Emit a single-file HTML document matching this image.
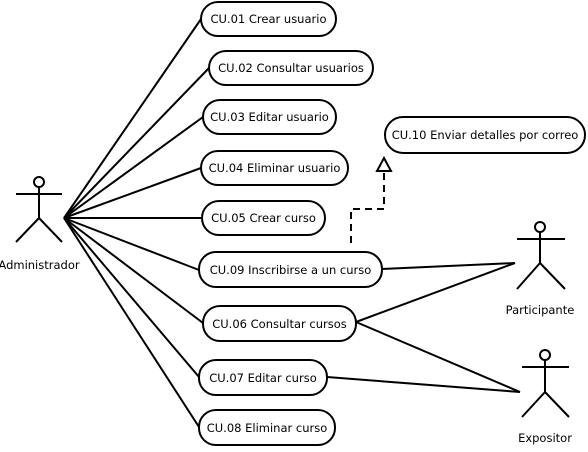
<!DOCTYPE html>
<html><head><meta charset="utf-8"><style>
html,body{margin:0;padding:0;background:#fff;}
</style></head><body>
<svg width="588" height="447" viewBox="0 0 588 447" xmlns="http://www.w3.org/2000/svg">
<g stroke="#000" stroke-width="2" fill="none">
<circle cx="39" cy="182" r="5"/>
<line x1="16" y1="194" x2="62" y2="194"/>
<line x1="39" y1="187" x2="39" y2="218"/>
<line x1="39" y1="218" x2="16" y2="242"/>
<line x1="39" y1="218" x2="62" y2="242"/>
<line x1="64" y1="218" x2="201" y2="19"/>
<line x1="64" y1="218" x2="209" y2="68"/>
<line x1="64" y1="218" x2="203" y2="117"/>
<line x1="64" y1="218" x2="201" y2="168"/>
<line x1="64" y1="218" x2="202" y2="218"/>
<line x1="64" y1="218" x2="199" y2="270"/>
<line x1="64" y1="218" x2="203" y2="323"/>
<line x1="64" y1="218" x2="199" y2="377"/>
<line x1="64" y1="218" x2="199" y2="427"/>
<circle cx="540" cy="227" r="5"/>
<line x1="517" y1="239" x2="565" y2="239"/>
<line x1="540" y1="232" x2="540" y2="263"/>
<line x1="540" y1="263" x2="517" y2="289"/>
<line x1="540" y1="263" x2="565" y2="289"/>
<circle cx="545" cy="355" r="5"/>
<line x1="522" y1="367" x2="569" y2="367"/>
<line x1="545" y1="360" x2="545" y2="392"/>
<line x1="545" y1="392" x2="522" y2="417"/>
<line x1="545" y1="392" x2="569" y2="417"/>
<line x1="382" y1="269" x2="515" y2="263"/>
<line x1="356" y1="322" x2="515" y2="263"/>
<line x1="356" y1="322" x2="520" y2="392"/>
<line x1="327" y1="377" x2="520" y2="392"/>
<polyline points="351,243 351,209 384,209 384,172" stroke-dasharray="7,5"/>
<polygon points="384,158 377,171 391,171" fill="#fff"/>
<rect x="201" y="2" width="135" height="34" rx="17" fill="#fff"/>
<rect x="209" y="51" width="164" height="34" rx="17" fill="#fff"/>
<rect x="203" y="100" width="133" height="34" rx="17" fill="#fff"/>
<rect x="201" y="151" width="147" height="34" rx="17" fill="#fff"/>
<rect x="202" y="201" width="123" height="34" rx="17" fill="#fff"/>
<rect x="199" y="252" width="183" height="35" rx="17" fill="#fff"/>
<rect x="203" y="306" width="153" height="35" rx="17" fill="#fff"/>
<rect x="199" y="360" width="128" height="35" rx="17" fill="#fff"/>
<rect x="199" y="410" width="136" height="35" rx="17" fill="#fff"/>
<rect x="385" y="117" width="200" height="36" rx="18" fill="#fff"/>
</g>
<g text-anchor="middle" font-family="DejaVu Sans, Liberation Sans, sans-serif" font-size="11.5" fill="#000" style="font-size:11.5px">
<text x="268.5" y="23">CU.01 Crear usuario</text>
<text x="291" y="72">CU.02 Consultar usuarios</text>
<text x="269.5" y="121">CU.03 Editar usuario</text>
<text x="274.5" y="172">CU.04 Eliminar usuario</text>
<text x="263.5" y="222">CU.05 Crear curso</text>
<text x="290.5" y="274">CU.09 Inscribirse a un curso</text>
<text x="279.5" y="328">CU.06 Consultar cursos</text>
<text x="263" y="382">CU.07 Editar curso</text>
<text x="267" y="432">CU.08 Eliminar curso</text>
<text x="485" y="139">CU.10 Enviar detalles por correo</text>
<text x="39" y="269">Administrador</text>
<text x="540" y="314">Participante</text>
<text x="545" y="442">Expositor</text>
</g>
</svg>
</body></html>
